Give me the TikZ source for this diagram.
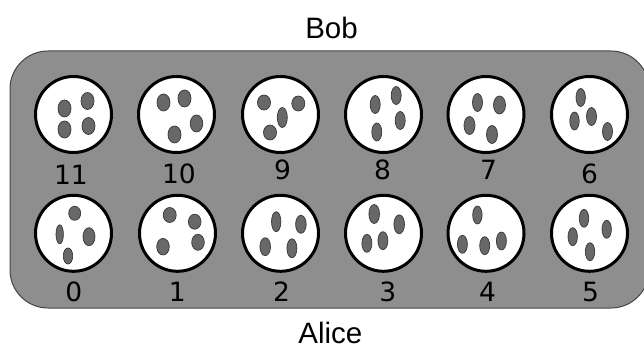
\documentclass[tikz,border=0pt]{standalone}
\usepackage{fontspec}
\setmainfont{Liberation Sans}
\newfontfamily\digitfont{DejaVu Sans}
\usetikzlibrary{calc}
\definecolor{boardgray}{RGB}{142,142,142}
\definecolor{boardline}{RGB}{70,70,70}
\definecolor{seedgray}{RGB}{104,104,104}
\definecolor{seedline}{RGB}{55,55,55}

\begin{document}
\begin{tikzpicture}[
  x=1pt,
  y=-1pt,
  board/.style={
    draw=boardline,
    fill=boardgray,
    line width=1pt,
    rounded corners=38pt,
  },
  pit/.style={
    draw,
    fill=white,
    circle,
    line width=3pt,
    inner sep=0pt,
    minimum size=76pt,
  },
  seed/.style={draw=seedline, fill=seedgray, line width=0.7pt},
  pitlabel/.style={font=\digitfont\fontsize{26.5}{30}\selectfont, inner sep=0pt},
  playername/.style={font=\fontsize{29.5}{34}\selectfont, inner sep=0pt},
]
\useasboundingbox (0,0) rectangle (644,347);
\draw[board] (10,51) rectangle (649,308);
\node[playername] (bob) at (331.5,28) {Bob};
\node[playername] (alice) at (330.3,332.6) {Alice};
\node[pit] (P11) at (73.5,114.5) {};
\node[pit] (P10) at (176.5,114.5) {};
\node[pit] (P9) at (280.5,114.5) {};
\node[pit] (P8) at (383.5,114.5) {};
\node[pit] (P7) at (486,114.5) {};
\node[pit] (P6) at (589.5,114.5) {};
\node[pit] (P0) at (73.5,233.3) {};
\node[pit] (P1) at (177.5,233.3) {};
\node[pit] (P2) at (280.5,233.3) {};
\node[pit] (P3) at (383.5,233.3) {};
\node[pit] (P4) at (486,233.3) {};
\node[pit] (P5) at (589.5,233.3) {};
\node[pitlabel] (L11) at (71,175) {11};
\node[pitlabel] (L10) at (179,173.5) {10};
\node[pitlabel] (L9) at (282.5,170) {9};
\node[pitlabel] (L8) at (382.5,170) {8};
\node[pitlabel] (L7) at (488.5,170) {7};
\node[pitlabel] (L6) at (589.5,174) {6};
\node[pitlabel] (L0) at (73.7,292) {0};
\node[pitlabel] (L1) at (177.3,292) {1};
\node[pitlabel] (L2) at (281.5,292) {2};
\node[pitlabel] (L3) at (387.8,292) {3};
\node[pitlabel] (L4) at (487.5,292) {4};
\node[pitlabel] (L5) at (590.5,292) {5};
\foreach \p/\dx/\dy/\rx/\ry in {
  P11/-9/-6/6.5/8.5, P11/14/-13.5/6.5/8.5, P11/-9/15/6.5/8.5, P11/15/11.5/6.5/8.5,
  P10/-13/-12/6.5/8.5, P10/8/-16/6.5/8.5, P10/20/9/6.3/8.5, P10/-2/20/6.5/8.5,
  P9/-16.5/-12/6.5/7.5, P9/17.8/-11/6.5/7.5, P9/1.8/3/5/10, P9/-10.5/18/6.5/7.5,
  P8/-8.3/-10/5/9, P8/12.7/-19/5/9, P8/16.7/6/5/9, P8/-6.7/17.5/5/9,
  P7/-8.5/-12/5/9, P7/13.5/-9.5/6/9, P7/-16.5/11/5.5/9, P7/6/20/5.5/9,
  P6/-8.8/-17/4.7/9, P6/-15/6.5/4.7/9, P6/2/2/5/9, P6/18/17/5/9,
  P0/1.2/-20/6/7, P0/-13.8/1/3.7/9.5, P0/15.5/3.4/6/9, P0/-5.5/22.7/4.7/8,
  P1/-7.8/-18.3/6.5/7.5, P1/17.2/-11.6/6.3/7.5, P1/-14.5/13.4/6.3/8.3, P1/20.5/9/6.3/8,
  P2/-4.3/-11.6/4.7/10, P2/20.4/-9/5.3/9, P2/-15.3/13.4/5.3/9, P2/11.4/15/5/9.5,
  P3/-9.3/-19.3/5.3/9.5, P3/15.7/-9/5.3/9.5, P3/-16.6/10/5/9, P3/-0.6/7.4/5/9,
  P4/-8.6/-18.3/4.7/9, P4/-23.6/11/5/9, P4/-1.3/12.4/5/9, P4/15.4/7.7/5/9,
  P5/-5.5/-15/4.7/9, P5/-16.8/3.4/4.7/9, P5/17.2/-4/4.7/9, P5/0.5/18.4/4.7/9}
  \draw[seed] ($(\p)+(\dx,\dy)$) ellipse [x radius=\rx, y radius=\ry];
\end{tikzpicture}
\end{document}
